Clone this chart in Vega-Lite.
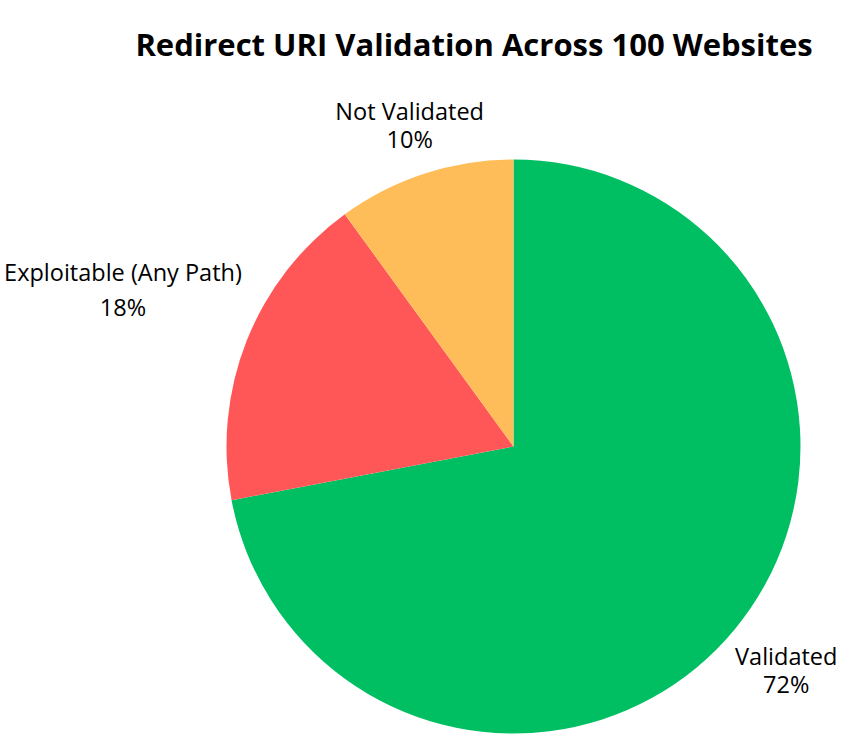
{
  "$schema": "https://vega.github.io/schema/vega-lite/v6.json",
  "autosize": {"type": "none"},
  "width": 574,
  "height": 574,
  "padding": {"left": 226.5, "top": 159.5, "right": 61.5, "bottom": 1.5},
  "background": "white",
  "title": {
    "text": "Redirect URI Validation Across 100 Websites",
    "font": "Open Sans",
    "fontSize": 31,
    "fontWeight": "bold",
    "color": "black",
    "anchor": "middle",
    "dx": -39.5,
    "offset": 38
  },
  "data": {
    "values": [
      {"category": "Validated", "share": 0.72},
      {"category": "Exploitable (Any Path)", "share": 0.18},
      {"category": "Not Validated", "share": 0.10}
    ]
  },
  "transform": [
    {"calculate": "indexof(['Validated','Exploitable (Any Path)','Not Validated'], datum.category)", "as": "ord"},
    {"calculate": "datum.category + '\\n' + format(datum.share, '.0%')", "as": "label"}
  ],
  "encoding": {
    "theta": {"field": "share", "type": "quantitative", "stack": true},
    "order": {"field": "ord", "type": "quantitative", "sort": "ascending"}
  },
  "layer": [
    {
      "mark": {"type": "arc", "radius": 287},
      "encoding": {
        "color": {
          "field": "category",
          "type": "nominal",
          "scale": {
            "domain": ["Validated", "Exploitable (Any Path)", "Not Validated"],
            "range": ["#00BF63", "#FF5757", "#FFBD59"]
          },
          "legend": null
        }
      }
    },
    {
      "mark": {
        "type": "text",
        "radius": {"expr": "datum.category == 'Validated' ? 354 : datum.category == 'Not Validated' ? 336 : 420"},
        "lineHeight": {"expr": "datum.category == 'Exploitable (Any Path)' ? 35 : 28"},
        "dy": {"expr": "datum.category == 'Exploitable (Any Path)' ? -17.5 : -14"},
        "lineBreak": "\n",
        "font": "Open Sans",
        "fontSize": 23.5,
        "color": "black",
        "align": "center",
        "baseline": "middle"
      },
      "encoding": {
        "text": {"field": "label", "type": "nominal"}
      }
    }
  ]
}
